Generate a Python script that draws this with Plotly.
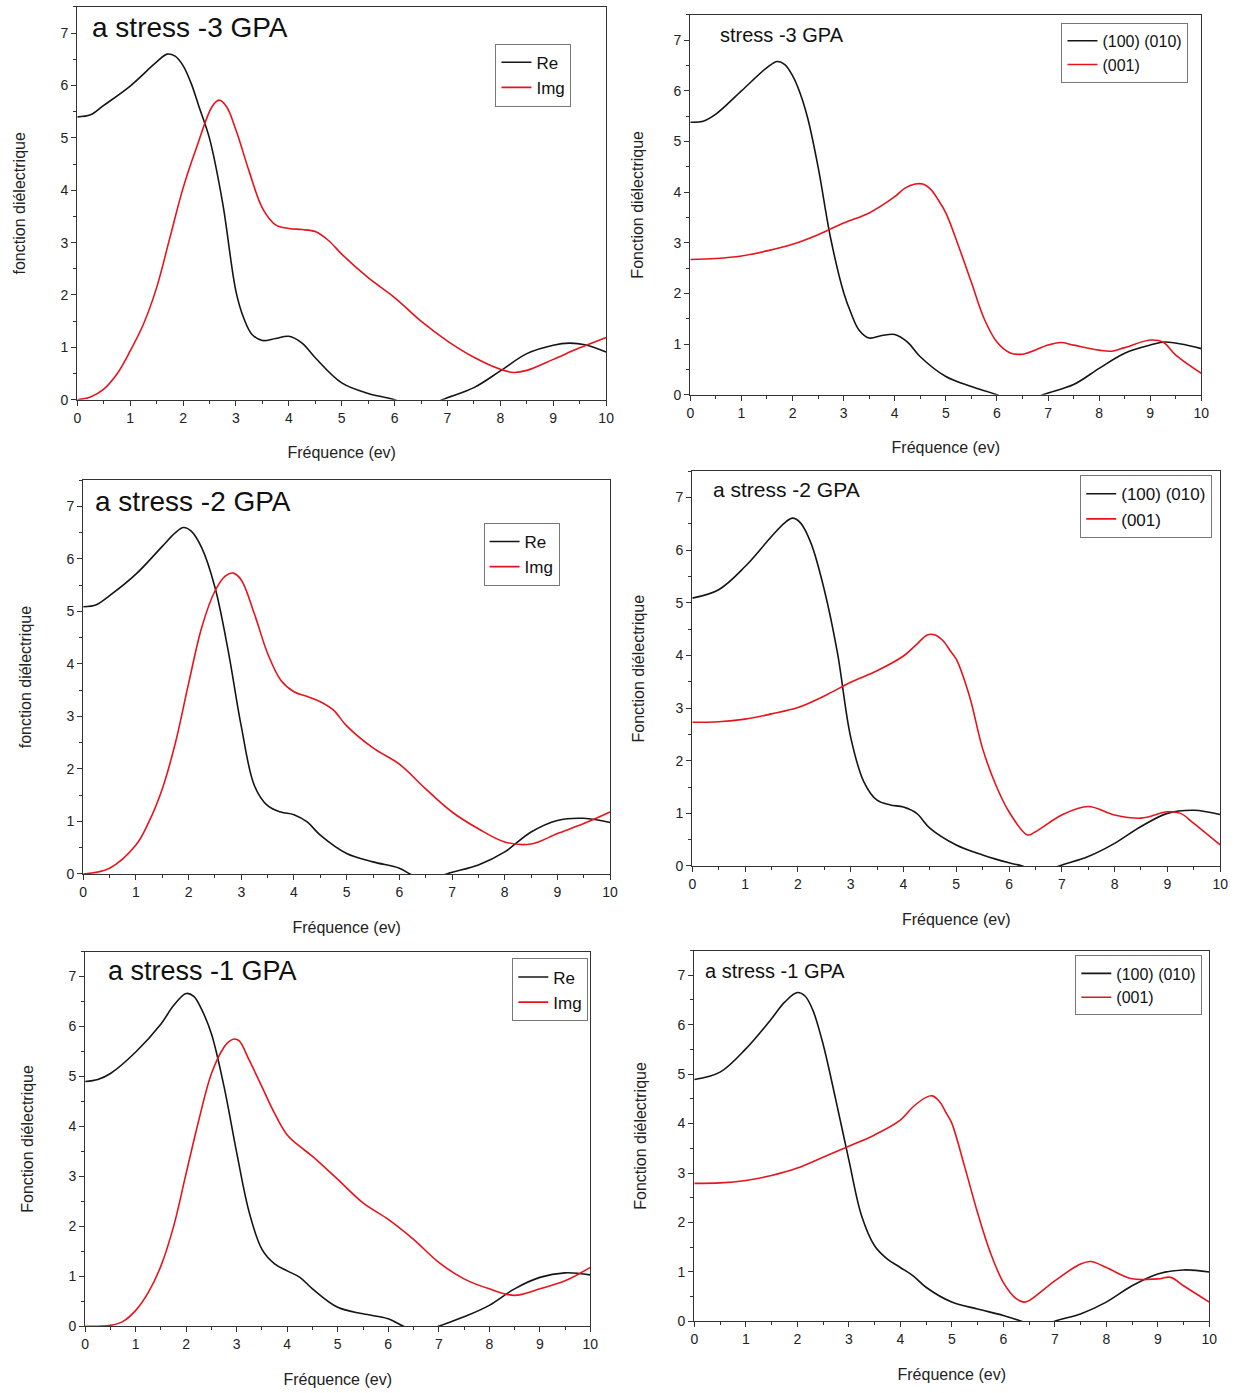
import plotly.graph_objects as go

W, H = 1245, 1393

# ---------------- data ----------------
# Panel 1 : a stress -3 GPA (Re / Img)
p1_re_x = [0, 0.25, 0.5, 1, 1.5, 1.7, 1.85, 2, 2.15, 2.3, 2.5, 2.75, 3, 3.15, 3.3, 3.5, 3.75, 4, 4.25, 4.5, 5, 5.5, 6, 6.45, 6.9, 7.5, 8, 8.5, 9, 9.3, 9.6, 10]
p1_re_y = [5.40, 5.44, 5.62, 5.99, 6.45, 6.60, 6.56, 6.38, 6.05, 5.60, 4.99, 3.75, 2.07, 1.55, 1.25, 1.13, 1.17, 1.21, 1.08, 0.80, 0.32, 0.12, 0.0, -0.2, 0.0, 0.23, 0.55, 0.88, 1.04, 1.08, 1.05, 0.91]
p1_im_x = [0, 0.25, 0.5, 0.75, 1, 1.25, 1.5, 1.75, 2, 2.25, 2.55, 2.68, 2.82, 3, 3.25, 3.5, 3.75, 4, 4.25, 4.5, 4.75, 5, 5.5, 6, 6.5, 7, 7.5, 8, 8.25, 8.5, 9, 9.5, 10]
p1_im_y = [0.0, 0.05, 0.2, 0.49, 0.93, 1.44, 2.14, 3.09, 4.04, 4.8, 5.60, 5.72, 5.60, 5.15, 4.36, 3.66, 3.34, 3.27, 3.25, 3.21, 3.04, 2.78, 2.33, 1.95, 1.50, 1.12, 0.81, 0.58, 0.52, 0.56, 0.77, 0.99, 1.19]

# Panel 2 : stress -3 GPA ((100)(010) / (001))
p2_a_x = [0, 0.25, 0.5, 1, 1.5, 1.7, 1.85, 2, 2.15, 2.3, 2.5, 2.75, 3, 3.15, 3.3, 3.5, 3.75, 4, 4.25, 4.5, 5, 5.5, 6, 6.45, 6.9, 7.5, 8, 8.5, 9, 9.3, 10]
p2_a_y = [5.38, 5.40, 5.54, 6.0, 6.46, 6.58, 6.52, 6.30, 5.95, 5.45, 4.50, 3.07, 2.02, 1.60, 1.28, 1.12, 1.17, 1.19, 1.04, 0.75, 0.36, 0.16, 0.0, -0.2, 0.0, 0.2, 0.52, 0.82, 0.98, 1.04, 0.91]
p2_c_x = [0, 0.5, 1, 1.5, 2, 2.5, 3, 3.5, 4, 4.2, 4.4, 4.55, 4.7, 4.85, 5, 5.25, 5.5, 5.75, 6, 6.25, 6.5, 7, 7.25, 7.5, 8, 8.25, 8.5, 9, 9.25, 9.5, 10]
p2_c_y = [2.67, 2.69, 2.74, 2.84, 2.97, 3.16, 3.39, 3.59, 3.91, 4.08, 4.16, 4.16, 4.06, 3.85, 3.59, 2.93, 2.22, 1.5, 1.04, 0.83, 0.80, 0.98, 1.03, 0.98, 0.88, 0.86, 0.93, 1.08, 1.04, 0.78, 0.42]

# Panel 3 : a stress -2 GPA (Re / Img)
p3_re_x = [0, 0.25, 0.5, 1, 1.5, 1.75, 1.9, 2.05, 2.25, 2.5, 2.75, 3, 3.25, 3.5, 3.75, 4, 4.25, 4.5, 5, 5.5, 6, 6.2, 6.55, 6.9, 7.5, 8, 8.5, 9, 9.5, 10]
p3_re_y = [5.09, 5.13, 5.30, 5.71, 6.24, 6.50, 6.60, 6.53, 6.21, 5.46, 4.26, 2.81, 1.68, 1.30, 1.18, 1.13, 0.99, 0.74, 0.39, 0.23, 0.11, 0.0, -0.15, 0.0, 0.17, 0.42, 0.80, 1.02, 1.06, 0.98]
p3_im_x = [0, 0.5, 1, 1.25, 1.5, 1.75, 2, 2.25, 2.5, 2.7, 2.85, 3, 3.25, 3.5, 3.75, 4, 4.25, 4.5, 4.75, 5, 5.5, 6, 6.5, 7, 7.5, 8, 8.5, 9, 9.5, 10]
p3_im_y = [0, 0.11, 0.55, 1.0, 1.62, 2.5, 3.63, 4.70, 5.39, 5.68, 5.73, 5.60, 4.95, 4.20, 3.69, 3.47, 3.38, 3.28, 3.12, 2.82, 2.40, 2.09, 1.62, 1.18, 0.86, 0.61, 0.57, 0.77, 0.96, 1.18]

# Panel 4 : a stress -2 GPA ((100)(010) / (001))
p4_a_x = [0, 0.5, 1, 1.5, 1.75, 1.9, 2.05, 2.25, 2.5, 2.75, 3, 3.25, 3.5, 3.75, 4, 4.25, 4.5, 5, 5.5, 6, 6.25, 6.6, 6.95, 7.5, 8, 8.5, 9, 9.5, 10]
p4_a_y = [5.09, 5.25, 5.69, 6.26, 6.52, 6.61, 6.52, 6.13, 5.25, 4.05, 2.45, 1.60, 1.25, 1.16, 1.12, 1.0, 0.72, 0.40, 0.21, 0.06, 0.0, -0.15, 0.0, 0.18, 0.43, 0.75, 1.0, 1.06, 0.98]
p4_c_x = [0, 0.5, 1, 1.5, 2, 2.5, 3, 3.5, 4, 4.25, 4.45, 4.6, 4.75, 4.9, 5, 5.25, 5.5, 5.75, 6, 6.35, 6.5, 7, 7.5, 8, 8.5, 9, 9.25, 9.5, 10]
p4_c_y = [2.73, 2.74, 2.79, 2.89, 3.01, 3.23, 3.49, 3.71, 3.99, 4.21, 4.39, 4.39, 4.28, 4.07, 3.93, 3.23, 2.23, 1.54, 1.03, 0.59, 0.65, 0.97, 1.13, 0.97, 0.91, 1.03, 1.0, 0.81, 0.40]

# Panel 5 : a stress -1 GPA (Re / Img)
p5_re_x = [0, 0.25, 0.5, 1, 1.5, 1.75, 2, 2.15, 2.3, 2.5, 2.75, 3, 3.25, 3.5, 3.75, 4, 4.25, 4.5, 5, 5.5, 6, 6.3, 6.65, 7.0, 7.5, 8, 8.5, 9, 9.5, 10]
p5_re_y = [4.90, 4.94, 5.06, 5.49, 6.05, 6.42, 6.66, 6.60, 6.35, 5.85, 4.79, 3.47, 2.27, 1.54, 1.25, 1.11, 0.98, 0.75, 0.38, 0.25, 0.15, 0.0, -0.15, 0.0, 0.19, 0.42, 0.75, 0.98, 1.07, 1.03]
p5_im_x = [0, 0.5, 0.75, 1, 1.25, 1.5, 1.75, 2, 2.25, 2.5, 2.75, 2.85, 2.95, 3.05, 3.25, 3.5, 3.75, 4, 4.25, 4.5, 5, 5.5, 6, 6.5, 7, 7.5, 8, 8.5, 9, 9.5, 10]
p5_im_y = [0, 0.02, 0.10, 0.32, 0.68, 1.21, 2.0, 3.07, 4.13, 5.06, 5.59, 5.70, 5.75, 5.71, 5.32, 4.79, 4.26, 3.83, 3.60, 3.40, 2.94, 2.47, 2.14, 1.74, 1.28, 0.95, 0.75, 0.62, 0.75, 0.91, 1.18]

# Panel 6 : a stress -1 GPA ((100)(010) / (001))
p6_a_x = [0, 0.5, 1, 1.5, 1.75, 2, 2.15, 2.3, 2.5, 2.75, 3, 3.25, 3.5, 3.75, 4, 4.25, 4.5, 5, 5.5, 6, 6.35, 6.7, 7.0, 7.5, 8, 8.5, 9, 9.5, 10]
p6_a_y = [4.89, 5.04, 5.51, 6.12, 6.45, 6.65, 6.58, 6.30, 5.61, 4.47, 3.27, 2.13, 1.53, 1.26, 1.09, 0.92, 0.69, 0.39, 0.25, 0.12, 0.0, -0.15, 0.0, 0.15, 0.39, 0.72, 0.96, 1.04, 1.0]
p6_c_x = [0, 0.5, 1, 1.5, 2, 2.5, 3, 3.5, 4, 4.25, 4.5, 4.62, 4.75, 4.9, 5, 5.25, 5.5, 5.75, 6, 6.25, 6.4, 6.5, 7, 7.5, 7.7, 8, 8.5, 9, 9.25, 9.5, 10]
p6_c_y = [2.79, 2.80, 2.85, 2.95, 3.10, 3.32, 3.54, 3.77, 4.07, 4.34, 4.53, 4.56, 4.46, 4.20, 4.01, 3.13, 2.20, 1.39, 0.79, 0.46, 0.39, 0.42, 0.82, 1.16, 1.21, 1.09, 0.86, 0.86, 0.89, 0.72, 0.39]

x_tick_vals = [0, 1, 2, 3, 4, 5, 6, 7, 8, 9, 10]
y_tick_vals = [0, 1, 2, 3, 4, 5, 6, 7]
x_title = "Fréquence (ev)"

FONT = "Liberation Sans, Arial, Helvetica, sans-serif"
BLACK = "#151515"
RED = "#e8141c"

# panel layout (pixel boxes: left, right, top, bottom)
panels = [
    dict(box=(74, 608, 7, 402), title="a stress -3 GPA", tsize=28, tpos=(87, 28),
         ytitle="fonction diélectrique", names=("Re", "Img"), ystand=30,
         data=((p1_re_x, p1_re_y), (p1_im_x, p1_im_y)), leg=(573, 44), lsize=17),
    dict(box=(693, 1209, 15, 397), title="stress -3 GPA", tsize=20, tpos=(721, 35),
         ytitle="Fonction diélectrique", names=("(100) (010)", "(001)"), ystand=26,
         data=((p2_a_x, p2_a_y), (p2_c_x, p2_c_y)), leg=(1196, 23), lsize=16),
    dict(box=(80, 612, 483, 879), title="a stress -2 GPA", tsize=28, tpos=(90, 504),
         ytitle="fonction diélectrique", names=("Re", "Img"), ystand=30,
         data=((p3_re_x, p3_re_y), (p3_im_x, p3_im_y)), leg=(561, 526), lsize=17),
    dict(box=(695, 1228, 474, 871), title="a stress -2 GPA", tsize=21, tpos=(714, 492),
         ytitle="Fonction diélectrique", names=("(100) (010)", "(001)"), ystand=26,
         data=((p4_a_x, p4_a_y), (p4_c_x, p4_c_y)), leg=(1220, 478), lsize=17),
    dict(box=(82, 592, 957, 1334), title="a stress -1 GPA", tsize=27, tpos=(103, 977),
         ytitle="Fonction diélectrique", names=("Re", "Img"), ystand=30,
         data=((p5_re_x, p5_re_y), (p5_im_x, p5_im_y)), leg=(590, 964), lsize=17),
    dict(box=(697, 1217, 956, 1329), title="a stress -1 GPA", tsize=20, tpos=(706, 977),
         ytitle="Fonction diélectrique", names=("(100) (010)", "(001)"), ystand=26,
         data=((p6_a_x, p6_a_y), (p6_c_x, p6_c_y)), leg=(1210, 961), lsize=16),
]

fig = go.Figure()
layout = dict(
    width=W, height=H, margin=dict(l=0, r=0, t=0, b=0),
    paper_bgcolor="white", plot_bgcolor="white",
    font=dict(family=FONT, color="#222"),
    showlegend=True, annotations=[],
)

for i, p in enumerate(panels, start=1):
    l, r, t, b = p["box"]
    sfx = "" if i == 1 else str(i)
    xa, ya = "x" + sfx, "y" + sfx
    lg = "legend" + sfx
    for (xs, ys), name, col in zip(p["data"], p["names"], (BLACK, RED)):
        fig.add_trace(go.Scatter(
            x=xs, y=ys, mode="lines", name=name, xaxis=xa, yaxis=ya, legend=lg,
            line=dict(color=col, width=1.6, shape="spline", smoothing=1.0),
        ))
    common = dict(showline=True, linecolor="#333", linewidth=1.2, mirror=True,
                  ticks="outside", ticklen=5, tickwidth=1.2, tickcolor="#333",
                  showgrid=False, zeroline=False,
                  tickfont=dict(size=14, color="#222"),
                  minor=dict(ticks="outside", ticklen=3, tickwidth=1, tickcolor="#333", dtick=0.5))
    layout["xaxis" + sfx] = dict(
        common, domain=[l / W, r / W], anchor=ya, range=[0, 10],
        tickvals=x_tick_vals,
        title=dict(text=x_title, font=dict(size=16, color="#222"), standoff=22),
    )
    layout["yaxis" + sfx] = dict(
        common, domain=[1 - b / H, 1 - t / H], anchor=xa, range=[0, 7.5],
        tickvals=y_tick_vals,
        title=dict(text=p["ytitle"], font=dict(size=16, color="#222"), standoff=p["ystand"]),
    )
    lx, ly = p["leg"]
    layout[lg] = dict(
        x=lx / W, y=1 - ly / H, xref="paper", yref="paper",
        xanchor="right", yanchor="top",
        bordercolor="#777", borderwidth=1, bgcolor="rgba(255,255,255,0)",
        font=dict(size=p["lsize"], color="#111"),
        tracegroupgap=0, itemwidth=30, traceorder="normal",
    )
    tx, ty = p["tpos"]
    layout["annotations"].append(dict(
        text=p["title"], x=tx / W, y=1 - ty / H, xref="paper", yref="paper",
        xanchor="left", yanchor="middle", showarrow=False,
        font=dict(size=p["tsize"], color="#111", family=FONT),
    ))

fig.update_layout(**layout)
fig.write_html("out.html", config={"displayModeBar": False},
               post_script="document.body.style.margin='0px';")
